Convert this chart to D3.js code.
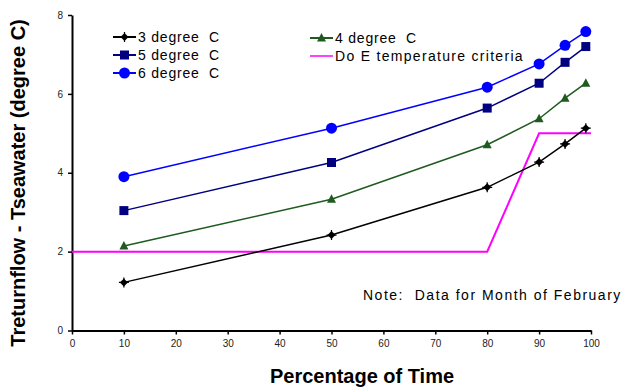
<!DOCTYPE html>
<html><head><meta charset="utf-8">
<script src="https://cdn.jsdelivr.net/npm/d3@7"></script>
<style>body{margin:0;background:#fff;} svg{display:block;font-family:Arial,"Liberation Sans",sans-serif;} text{white-space:pre;}</style>
</head><body>
<svg id="c" width="625" height="387"></svg>
<script>
const xPct = [10, 50, 80, 90, 95, 99];
const deg3 = [1.22, 2.42, 3.63, 4.27, 4.73, 5.13];
const deg4 = [2.14, 3.33, 4.71, 5.37, 5.89, 6.27];
const deg5 = [3.04, 4.26, 5.64, 6.27, 6.80, 7.20];
const deg6 = [3.90, 5.13, 6.17, 6.76, 7.23, 7.58];
const doeX = [0, 80, 90, 100];
const doeY = [2, 2, 5, 5];
const xTicks = [0,10,20,30,40,50,60,70,80,90,100];
const yTicks = [0,2,4,6,8];

const svg = d3.select("#c");
const x = d3.scaleLinear().domain([0,100]).range([72,591]);
const y = d3.scaleLinear().domain([0,8]).range([330.5,15]);

const xa = svg.append("g").attr("transform","translate(0,330.5)")
  .call(d3.axisBottom(x).tickValues(xTicks).tickSize(4).tickSizeOuter(0));
const ya = svg.append("g").attr("transform","translate(72,0)")
  .call(d3.axisLeft(y).tickValues(yTicks).tickSize(4).tickSizeOuter(0));
[xa,ya].forEach(a=>{
  a.select(".domain").attr("stroke","#000").attr("stroke-width",2);
  a.selectAll(".tick line").attr("stroke","#000").attr("stroke-width",1.5);
  a.selectAll(".tick text").attr("font-size",10).attr("fill","#222").attr("font-family","Arial, sans-serif");
});
xa.selectAll(".tick text").attr("dy","0.9em");
ya.selectAll(".tick text").attr("dx","-2");

const line = d3.line().x(d=>x(d[0])).y(d=>y(d[1]));

const series = [
  {name:"3 degree  C", vals:deg3, color:"#000000", marker:"plus"},
  {name:"4 degree  C", vals:deg4, color:"#1f5a1f", marker:"tri"},
  {name:"5 degree  C", vals:deg5, color:"#000080", marker:"sq"},
  {name:"6 degree  C", vals:deg6, color:"#0000ff", marker:"circ"}
];

function drawMarker(g, type, cx, cy, color){
  if(type==="circ"){
    g.append("circle").attr("cx",cx).attr("cy",cy).attr("r",5.5).attr("fill",color);
  } else if(type==="sq"){
    g.append("rect").attr("x",cx-4.5).attr("y",cy-4.5).attr("width",9).attr("height",9).attr("fill",color);
  } else if(type==="tri"){
    g.append("path").attr("d",`M${cx},${cy-5}L${cx+4.5},${cy+3.5}L${cx-4.5},${cy+3.5}Z`).attr("fill",color);
  } else {
    g.append("path").attr("d",`M${cx},${cy-4}L${cx+4},${cy}L${cx},${cy+4}L${cx-4},${cy}Z`).attr("fill",color);
    g.append("path").attr("d",`M${cx-5},${cy}H${cx+5}M${cx},${cy-5}V${cy+5}`).attr("stroke",color).attr("stroke-width",1.2);
  }
}

svg.append("path").datum(doeX.map((d,i)=>[d,doeY[i]])).attr("d",line)
  .attr("fill","none").attr("stroke","#ff00ff").attr("stroke-width",2);

series.forEach(s=>{
  const pts = xPct.map((d,i)=>[d,s.vals[i]]);
  svg.append("path").datum(pts).attr("d",line).attr("fill","none")
    .attr("stroke",s.color).attr("stroke-width",1.5);
  const g = svg.append("g");
  pts.forEach(p=>drawMarker(g,s.marker,x(p[0]),y(p[1]),s.color));
});

const legend = [
  {s:series[0], lx:113, ly:37, ls:0.8},
  {s:series[2], lx:113, ly:55, ls:0.8},
  {s:series[3], lx:113, ly:73, ls:0.8},
  {s:series[1], lx:310, ly:38, ls:0.8},
  {s:{name:"Do E temperature criteria", color:"#ff00ff", marker:null}, lx:310, ly:56, ls:1.3}
];
legend.forEach(l=>{
  const g = svg.append("g");
  g.append("line").attr("x1",l.lx).attr("x2",l.lx+23).attr("y1",l.ly).attr("y2",l.ly)
    .attr("stroke",l.s.color).attr("stroke-width",l.s.marker?2:1.5);
  if(l.s.marker) drawMarker(g,l.s.marker,l.lx+11.5,l.ly,l.s.color);
  g.append("text").attr("x",l.lx+25).attr("y",l.ly).attr("dy","0.36em")
    .attr("font-size",14).attr("letter-spacing",l.ls).attr("fill","#000").text(l.s.name);
});

svg.append("text").attr("x",363).attr("y",295).attr("dy","0.36em").attr("font-size",14)
  .attr("letter-spacing",1.5).attr("fill","#000").text("Note:  Data for Month of February");

svg.append("text").attr("x",362).attr("y",383).attr("text-anchor","middle")
  .attr("font-size",20).attr("font-weight","bold").text("Percentage of Time");
svg.append("text").attr("transform","translate(25,183) rotate(-90)").attr("text-anchor","middle")
  .attr("font-size",20).attr("font-weight","bold").text("Treturnflow - Tseawater (degree C)");
</script>
</body></html>
